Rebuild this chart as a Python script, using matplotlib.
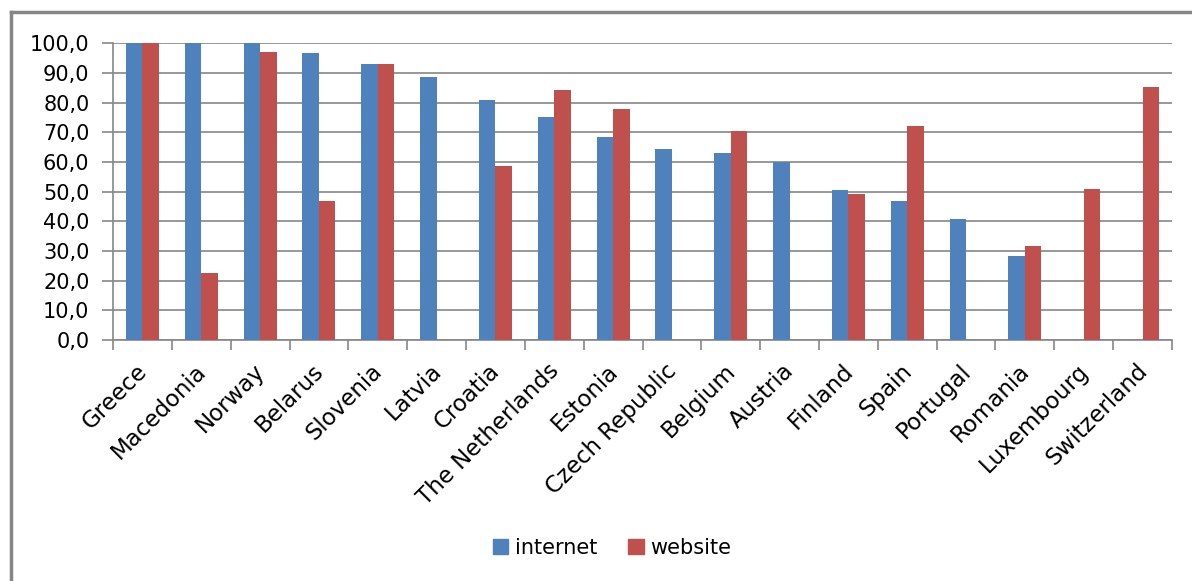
import numpy as np
import matplotlib
matplotlib.use("Agg")
import matplotlib.pyplot as plt
from matplotlib.ticker import FuncFormatter, FixedLocator
from matplotlib.lines import Line2D
from matplotlib.patches import Patch
from matplotlib.transforms import ScaledTranslation

# data
countries = ["Greece", "Macedonia", "Norway", "Belarus", "Slovenia", "Latvia",
             "Croatia", "The Netherlands", "Estonia", "Czech Republic", "Belgium",
             "Austria", "Finland", "Spain", "Portugal", "Romania", "Luxembourg",
             "Switzerland"]
internet = [100.0, 100.0, 100.0, 96.7, 93.0, 88.6, 80.9, 75.2, 68.4, 64.4,
            63.0, 60.0, 50.6, 46.8, 40.8, 28.3, 0.0, 0.0]
website = [100.0, 22.6, 97.1, 46.8, 93.0, 0.0, 58.6, 84.3, 77.9, 0.0,
           70.4, 0.0, 49.2, 72.1, 0.0, 31.7, 50.9, 85.3]

blue = "#4F81BD"
red = "#C0504D"
grey = "#868686"

plt.rcParams['font.family'] = ['DejaVu Sans']

W, H = 1192, 581
fig = plt.figure(figsize=(W / 100, H / 100), dpi=100)
ax = fig.add_axes([113 / W, 1 - 340 / H, (1172 - 113) / W, (340 - 43.3) / H])

x = np.arange(len(countries))
bw = 0.28
ax.bar(x - bw / 2, internet, bw, color=blue, zorder=3)
ax.bar(x + bw / 2, website, bw, color=red, zorder=3)

ax.set_xlim(-0.5, len(countries) - 0.5)
ax.set_ylim(0, 100)
ax.set_yticks(np.arange(0, 101, 10))
ax.yaxis.set_major_formatter(FuncFormatter(lambda v, p: f"{v:.1f}".replace('.', ',')))
ax.grid(axis='y', color=grey, linewidth=1.2, zorder=0)

ax.set_xticks(x)
ax.set_xticklabels(countries, rotation=45, ha='right', va='top', rotation_mode='anchor')
ax.xaxis.set_minor_locator(FixedLocator(np.arange(-0.5, len(countries), 1)))
ax.tick_params(axis='x', which='major', length=0, pad=14, labelsize=16.5)
ax.tick_params(axis='x', which='minor', length=7, color=grey, width=1.2)
ax.tick_params(axis='y', length=8, color=grey, width=1.2, labelsize=15, pad=9)

# nudge rotated labels a little to the left
shift = ScaledTranslation(-7 / 100, 0, fig.dpi_scale_trans)
for lbl in ax.get_xticklabels():
    lbl.set_transform(lbl.get_transform() + shift)

for s in ['top', 'right']:
    ax.spines[s].set_visible(False)
for s in ['left', 'bottom']:
    ax.spines[s].set_color(grey)
    ax.spines[s].set_linewidth(1.2)

# legend
handles = [Patch(color=blue, label='internet'), Patch(color=red, label='website')]
fig.legend(handles=handles, loc='center', bbox_to_anchor=(612 / W, 1 - 548 / H),
           ncol=2, frameon=False, fontsize=15, handlelength=0.75, handleheight=0.75,
           handletextpad=0.3, columnspacing=1.5)

# chart-area border (left and top edges visible)
fig.add_artist(Line2D([11 / W, 11 / W], [0, 1 - 12 / H], transform=fig.transFigure,
                      color=grey, linewidth=2.5))
fig.add_artist(Line2D([11 / W, 1], [1 - 12 / H, 1 - 12 / H], transform=fig.transFigure,
                      color=grey, linewidth=2.5))

fig.savefig("out.png", dpi=100)
